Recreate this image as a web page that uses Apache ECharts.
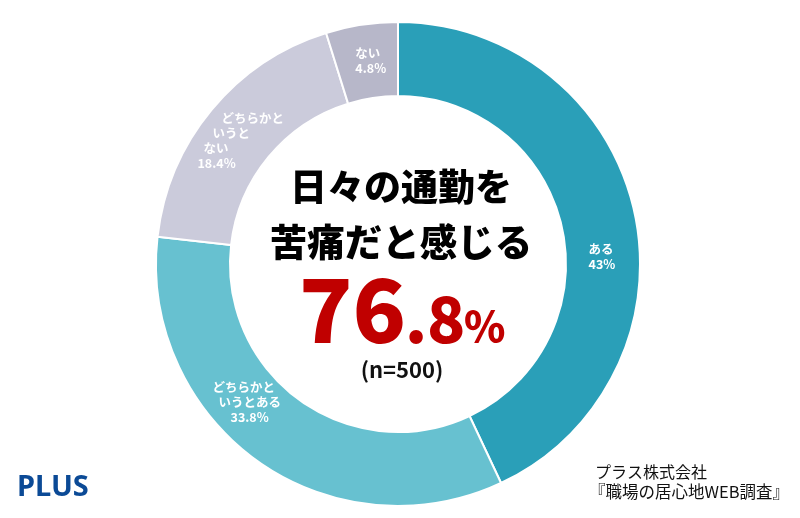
<!DOCTYPE html>
<html>
<head>
<meta charset="utf-8">
<style>
  html, body { margin: 0; padding: 0; background: #fff; }
  #main { width: 800px; height: 518px; }
</style>
<script src="https://cdn.jsdelivr.net/npm/echarts@6/dist/echarts.min.js"></script>
</head>
<body>
<div id="main"></div>
<script>
var categories = ['ある', 'どちらかというとある', 'どちらかというとない', 'ない'];
var values = [43, 33.8, 18.4, 4.8];
var colors = ['#2a9fb8', '#67c1d0', '#cbcbdb', '#b7b7c9'];
var jp = '"Noto Sans CJK JP", sans-serif';

var chart = echarts.init(document.getElementById('main'));

// 各ラベルの改行は元画像どおり
var sliceLabels = [
  { formatter: '{a|ある}\n{a|' + values[0] + '%}', offset: [1, 38] },
  { formatter: '{a|どちらかと}\n{b|いうとある}\n{c|' + values[1] + '%}', offset: [-30, -31] },
  { formatter: '{a|どちらかと}\n{b|いうと}\n{c|ない}\n{d|' + values[2] + '%}', offset: [3, 9] },
  { formatter: '{a|ない}\n{a|' + values[3] + '%}', offset: [4, 2] }
];
var richStyles = [
  { a: {} },
  { a: {}, b: { padding: [0, 0, 0, 6] }, c: { padding: [0, 0, 0, 18] } },
  { a: { padding: [0, 0, 0, 24] }, b: { padding: [0, 0, 0, 15] }, c: { padding: [0, 0, 0, 6] }, d: {} },
  { a: {} }
];

function richFor(i) {
  var out = {};
  Object.keys(richStyles[i]).forEach(function (k) {
    out[k] = Object.assign({
      color: '#fff', fontFamily: jp, fontWeight: 'bold', fontSize: 12.5, lineHeight: 15, align: 'left'
    }, richStyles[i][k]);
  });
  return out;
}

chart.setOption({
  animation: false,
  backgroundColor: '#fff',
  series: [{
    type: 'pie',
    center: [398, 264],
    radius: [168, 242],
    startAngle: 90,
    clockwise: true,
    silent: true,
    itemStyle: { borderColor: '#fff', borderWidth: 2 },
    label: { show: true, position: 'inside', align: 'left' },
    labelLine: { show: false },
    data: categories.map(function (name, i) {
      return {
        name: name,
        value: values[i],
        itemStyle: { color: colors[i] },
        label: {
          formatter: sliceLabels[i].formatter,
          offset: sliceLabels[i].offset,
          rich: richFor(i)
        }
      };
    })
  }],
  graphic: [
    { type: 'text', x: 401, y: 187, style: { text: '日々の通勤を', font: '900 37px ' + jp, fill: '#000', align: 'center', verticalAlign: 'middle' } },
    { type: 'text', x: 401, y: 242, style: { text: '苦痛だと感じる', font: '900 37.5px ' + jp, fill: '#000', align: 'center', verticalAlign: 'middle' } },
    { type: 'text', x: 299, y: 310, style: { text: '76', font: '900 88px ' + jp, fill: '#c00000', align: 'left', verticalAlign: 'middle' } },
    { type: 'text', x: 405, y: 319, style: { text: '.8', font: '900 63px ' + jp, fill: '#c00000', align: 'left', verticalAlign: 'middle' } },
    { type: 'text', x: 464, y: 326, style: { text: '%', font: '900 42px ' + jp, fill: '#c00000', align: 'left', verticalAlign: 'middle' } },
    { type: 'text', x: 402, y: 370, style: { text: '(n=500)', font: 'bold 22px ' + jp, fill: '#111', align: 'center', verticalAlign: 'middle' } },
    { type: 'text', x: 17, y: 488, style: { text: 'PLUS', font: 'bold 29px "Noto Sans", sans-serif', fill: '#0b4a96', align: 'left', verticalAlign: 'middle' } },
    { type: 'text', x: 595, y: 472, style: { text: 'プラス株式会社', font: '16px ' + jp, fill: '#111', align: 'left', verticalAlign: 'middle' } },
    { type: 'text', x: 589, y: 492, style: { text: '『職場の居心地WEB調査』', font: '16.5px ' + jp, fill: '#111', align: 'left', verticalAlign: 'middle' } }
  ]
});
</script>
</body>
</html>
